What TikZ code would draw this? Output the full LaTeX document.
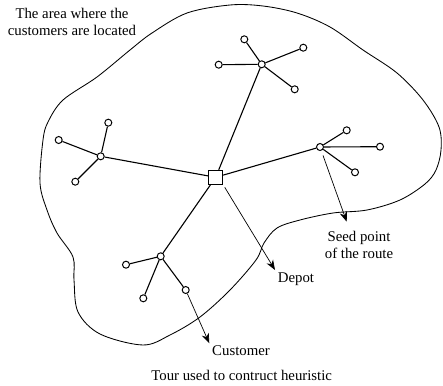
\documentclass[tikz,border=0pt]{standalone}
\usepackage{fontspec}
\setmainfont{Liberation Serif}
\usetikzlibrary{arrows.meta}

\tikzset{
	cust/.style={circle,draw,line width=1pt,fill=white,inner sep=0pt,minimum size=7pt},
	depot/.style={rectangle,draw,line width=1pt,fill=white,inner sep=0pt,minimum size=14pt},
	spoke/.style={line width=1.1pt},
	pointer/.style={line width=0.7pt,-{Stealth[length=10pt,width=7.5pt]}},
	lbl/.style={font=\fontsize{14.8}{17}\selectfont,align=center,inner sep=0pt}
}

\begin{document}
\begin{tikzpicture}[x=1pt,y=-1pt]
	\useasboundingbox (0,0) rectangle (443,385);

	% area of the customers
	\draw[line width=0.85pt] plot[smooth cycle,tension=0.55] coordinates {
		(230,5) (263,6) (297,13) (330,27) (363,50) (397,73) (423,100) (439,127)
		(441,150) (436,170) (425,184) (400,200) (367,210) (333,213) (300,220)
		(277,228) (264,243) (256,260) (230,290) (200,317) (170,335) (143,345)
		(100,334) (78,312) (74,280) (73,257) (57,233) (47,210) (40,183) (43,140)
		(48,122) (63,100) (97,77) (130,50) (152,33) (187,13)};

	\node[depot] (d) at (215.7,177.3) {};

	\foreach \h/\x/\y in {t/261.7/64.3, l/100.7/156.3, r/320/147, b/160.7/256.3} {
		\node[cust] (h\h) at (\x,\y) {};
		\draw[spoke] (d) -- (h\h);
	}

	\foreach \h/\i/\x/\y in {t/1/244.3/39.3, t/2/303.3/47.7, t/3/218.7/64.7, t/4/294.7/89.3,
		l/1/108.3/122.7, l/2/58.7/140, l/3/75.3/181.7,
		r/1/346.7/130.3, r/2/380/146.7, r/3/355/172.3,
		b/1/126/264.7, b/2/143.3/298.3, b/3/185.7/290} {
		\node[cust] (c\h\i) at (\x,\y) {};
		\draw[spoke] (h\h) -- (c\h\i);
	}

	% pointers to the labels
	\coordinate (tipseed) at (346.7,221.7);
	\coordinate (tipdepot) at (275,270);
	\coordinate (tipcust) at (209.3,343.3);

	\draw[pointer,shorten <=5pt] (hr) -- (tipseed);
	\draw[pointer,shorten <=3pt] (d.south east) -- (tipdepot);
	\draw[pointer] (cb3) -- (tipcust);

	% base anchor sits on the last line
	\node[lbl,anchor=base] (area) at (72,35.5) {The area where the\\customers are located};
	\node[lbl,anchor=base] (seed) at (359,258.3) {Seed point\\of the route};
	\node[lbl,anchor=base] (depotlbl) at (296,282.7) {Depot};
	\node[lbl,anchor=base] (custlbl) at (241,355) {Customer};
	\node[lbl,anchor=base] (tour) at (241.7,380) {Tour used to contruct heuristic};
\end{tikzpicture}
\end{document}
